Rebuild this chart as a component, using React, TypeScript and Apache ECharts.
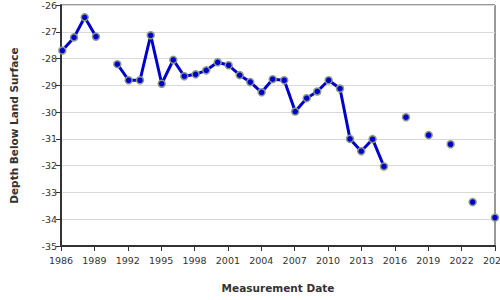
import React, { useEffect, useRef } from "react";
import * as echarts from "echarts";

// Decimal-year measurement dates and depth below land surface (ft)
const dates: number[] = [
  1986.12, 1987.17, 1988.13, 1989.14,
  1991.06, 1992.08, 1993.1, 1994.06, 1995.05, 1996.09, 1997.08, 1998.1, 1999.05,
  2000.08, 2001.07, 2002.06, 2003.01, 2004.03, 2005.02, 2006.06, 2007.05, 2008.08,
  2009.03, 2010.05, 2011.07, 2011.97, 2012.98, 2014.0, 2015.02,
  2017.0, 2019.04, 2021.01, 2022.99, 2025.0,
];
const depths: number[] = [
  -27.7, -27.21, -26.46, -27.18,
  -28.21, -28.81, -28.81, -27.13, -28.94, -28.05, -28.66, -28.59, -28.44,
  -28.14, -28.25, -28.62, -28.88, -29.26, -28.77, -28.81, -29.98, -29.48,
  -29.23, -28.81, -29.12, -31.0, -31.46, -31.01, -32.03,
  -30.19, -30.86, -31.2, -33.36, -33.94,
];
// Index after which the line is broken (gap in record)
const breaksAfter: number[] = [3, 28, 29, 30, 31, 32];

const X_MIN = 1986;
const X_MAX = 2025;
const X_STEP = 3;
const Y_MIN = -35;
const Y_MAX = -26;

export default function App() {
  const ref = useRef<HTMLDivElement>(null);
  useEffect(() => {
    document.body.style.margin = "0";
    if (!ref.current) return;
    const chart = echarts.init(ref.current, undefined, { renderer: "svg" });
    const data: any[] = [];
    dates.forEach((d, i) => {
      data.push([d, depths[i]]);
      if (breaksAfter.includes(i)) data.push([(d + dates[i + 1]) / 2, "-"]);
    });
    const font = "DejaVu Sans";
    chart.setOption({
      animation: false,
      grid: {
        left: 61,
        right: 5,
        top: 5,
        bottom: 54,
        containLabel: false,
        outerBoundsMode: "none",
        show: true,
        borderColor: "#333",
        borderWidth: 1,
        backgroundColor: "transparent",
      },
      xAxis: {
        type: "value",
        min: X_MIN,
        max: X_MAX,
        interval: X_STEP,
        name: "Measurement Date",
        nameLocation: "middle",
        nameGap: 36,
        nameTextStyle: { fontFamily: font, fontSize: 10.5, fontWeight: "bold", color: "#333" },
        axisLine: { show: true, lineStyle: { color: "#333", width: 2 } },
        axisTick: { show: true, length: 5, lineStyle: { color: "#333", width: 1 } },
        axisLabel: { fontFamily: font, fontSize: 9.5, color: "#333", margin: 9, formatter: (v: number) => String(v) },
        splitLine: { show: false },
      },
      yAxis: {
        type: "value",
        min: Y_MIN,
        max: Y_MAX,
        interval: 1,
        name: "Depth Below Land Surface",
        nameLocation: "middle",
        nameGap: 42,
        nameTextStyle: { fontFamily: font, fontSize: 10.5, fontWeight: "bold", color: "#333" },
        axisLine: { show: true, lineStyle: { color: "#333", width: 2 } },
        axisTick: { show: true, length: 5, lineStyle: { color: "#333", width: 1 } },
        axisLabel: { fontFamily: font, fontSize: 9.5, color: "#333", margin: 4 },
        splitLine: { show: true, lineStyle: { color: "#d9d9d9", width: 1 } },
      },
      series: [
        {
          type: "line",
          data,
          connectNulls: false,
          showSymbol: true,
          symbol: "circle",
          symbolSize: 7,
          lineStyle: { color: "#0000cc", width: 3 },
          itemStyle: { color: "#0000cc", borderColor: "#8a9a86", borderWidth: 1.5 },
        },
      ],
    });
    return () => chart.dispose();
  }, []);
  return <div ref={ref} style={{ width: 500, height: 300 }} />;
}
